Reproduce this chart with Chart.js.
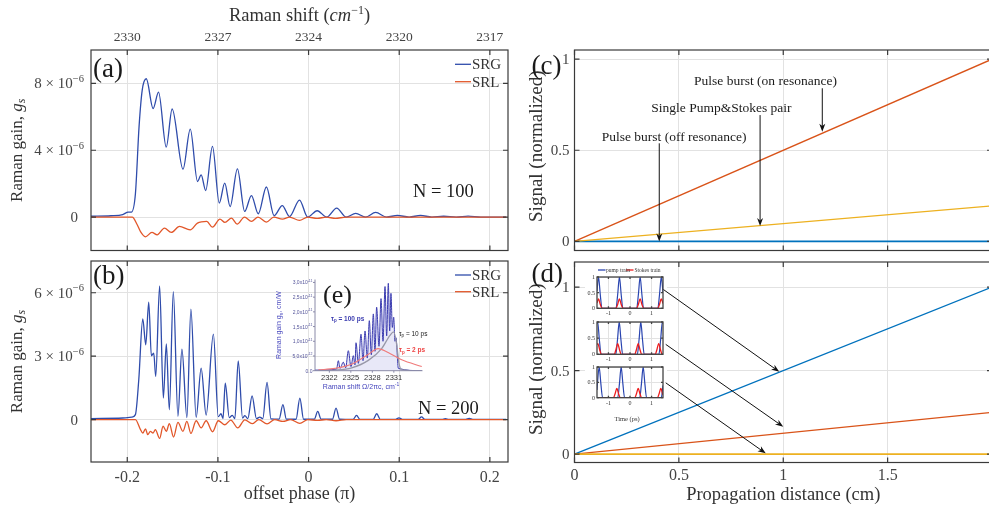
<!DOCTYPE html>
<html>
<head>
<meta charset="utf-8">
<script src="https://cdn.jsdelivr.net/npm/chart.js@4.4.1/dist/chart.umd.min.js"></script>
<style>
html, body { margin: 0; padding: 0; background: #fff; overflow: hidden; }
#wrap { position: relative; width: 989px; height: 506px; overflow: hidden; }
#wrap canvas { position: absolute; left: 0; top: 0; }
</style>
</head>
<body>
<div id="wrap">
  <canvas id="pa" width="994" height="506"></canvas>
  <canvas id="pb" width="994" height="506"></canvas>
  <canvas id="pe" width="994" height="506"></canvas>
  <canvas id="pc" width="994" height="506"></canvas>
  <canvas id="pd" width="994" height="506"></canvas>
  <canvas id="pd1" width="994" height="506"></canvas>
  <canvas id="pd2" width="994" height="506"></canvas>
  <canvas id="pd3" width="994" height="506"></canvas>
</div>
<script>
// ---- (a), (b): gain vs offset phase; top axis shows Raman shift at the same ticks
const phaseTicks = [-0.2, -0.1, 0, 0.1, 0.2];
const phaseLabels = ['-0.2', '-0.1', '0', '0.1', '0.2'];
const shiftLabels = ['2330', '2327', '2324', '2320', '2317'];
// gains in units of 1e-6
const aGainTicks = [0, 4, 8];
const bGainTicks = [0, 3, 6];

const aSrgX = [-0.24, -0.218, -0.205, -0.199, -0.1955, -0.191, -0.187, -0.1835, -0.179, -0.1715,
  -0.1655, -0.157, -0.1505, -0.1385, -0.1305, -0.1225, -0.1185, -0.1135, -0.106, -0.0985,
  -0.0925, -0.0865, -0.0785, -0.0705, -0.063, -0.0555, -0.0465, -0.038, -0.029, -0.021,
  -0.010, -0.001, 0.0095, 0.020, 0.031, 0.0415, 0.052, 0.063, 0.074, 0.086,
  0.098, 0.111, 0.1235, 0.136, 0.149, 0.163, 0.176, 0.19, 0.218];
const aSrgY = [0.05, 0.08, 0.15, 0.3, 0.3, 1.4, 5.4, 7.6, 8.28, 6.5,
  7.48, 4.19, 6.47, 2.87, 5.27, 2.13, 2.53, 1.59, 4.23, 0.84,
  2.03, 0.63, 2.89, 0.34, 1.29, 0.2, 1.8, 0.08, 0.69, 0.03,
  1.02, 0.0, 0.38, 0.0, 0.54, 0.0, 0.22, 0.0, 0.28, 0.0,
  0.1, 0.0, 0.1, 0.0, 0.05, 0.0, 0.06, 0.0, 0.0];
const aSrlX = [-0.24, -0.1945, -0.189, -0.1855, -0.180, -0.1728, -0.167, -0.159, -0.1515, -0.1424,
  -0.1306, -0.1226, -0.1123, -0.106, -0.0978, -0.0923, -0.085, -0.0788, -0.0707, -0.063,
  -0.0558, -0.0466, -0.0383, -0.0288, -0.021, -0.010, -0.001, 0.0094, 0.0196, 0.0295,
  0.0415, 0.218];
const aSrlY = [0, 0, -0.46, -0.86, -1.18, -0.92, -1.06, -0.66, -0.92, -0.56,
  -0.76, -0.36, -0.26, -0.6, -0.12, -0.32, -0.06, -0.42, 0, -0.26,
  0, -0.3, 0, -0.12, 0, -0.2, 0, -0.08, 0, -0.08,
  0, 0];

const bSrgX = [-0.24, -0.205, -0.195, -0.191, -0.1873, -0.1829, -0.1796, -0.1763, -0.1734, -0.1708,
  -0.1686, -0.1643, -0.1602, -0.1569, -0.1536, -0.1492, -0.1441, -0.1397, -0.1342, -0.1298,
  -0.1240, -0.1185, -0.1130, -0.1050, -0.0996, -0.0966, -0.0944, -0.0919, -0.0875, -0.0842,
  -0.0813, -0.0776, -0.0728, -0.0703, -0.0670, -0.0623, -0.0575, -0.0538, -0.0505, -0.0458,
  -0.0415, -0.0325, -0.0283, -0.0245, -0.0138, -0.0096, -0.0055, 0.0063, 0.0101, 0.0139,
  0.0264, 0.0303, 0.0342, 0.0490, 0.0529, 0.0568, 0.0713, 0.0752, 0.0791, 0.0960,
  0.0997, 0.1034, 0.1208, 0.1246, 0.1284, 0.1471, 0.1509, 0.1547, 0.1734, 0.1772,
  0.1810, 0.218];
const bSrgY = [0.05, 0.08, 0.12, 0.24, 1.89, 4.76, 3.54, 5.55, 3.02, 3.15,
  2.04, 6.32, 1.02, 3.58, 0.47, 6.05, 0.16, 3.33, 0.1, 5.22,
  0.11, 2.44, 0.22, 4.04, 0.14, 0.28, 0.05, 1.73, 0.1, 0.2,
  0.05, 2.78, 0.08, 0.19, 0.05, 1.13, 0.05, 0.12, 0.05, 1.76,
  0.04, 0.03, 0.71, 0.03, 0.02, 1.02, 0.02, 0.02, 0.39, 0.02,
  0.02, 0.55, 0.02, 0.01, 0.2, 0.01, 0.01, 0.28, 0.01, 0.01,
  0.09, 0.01, 0.01, 0.13, 0.01, 0.01, 0.05, 0.01, 0.01, 0.06,
  0.01, 0.01];
const bSrlX = [-0.24, -0.191, -0.1854, -0.1829, -0.1799, -0.1774, -0.1745, -0.1715, -0.1690, -0.1643,
  -0.1605, -0.1569, -0.1536, -0.1489, -0.1441, -0.1386, -0.1342, -0.1298, -0.1240, -0.1185,
  -0.1130, -0.1059, -0.0996, -0.0923, -0.0858, -0.0781, -0.0703, -0.0623, -0.0549, -0.0458,
  -0.0374, -0.0283, -0.0198, -0.0096, -0.0009, 0.0097, 0.0196, 0.0303, 0.0416, 0.218];
const bSrlY = [0, 0, -0.47, -0.63, -0.43, -0.71, -0.55, -0.63, -0.47, -0.88,
  -0.31, -0.55, -0.19, -0.82, -0.13, -0.55, -0.08, -0.65, -0.05, -0.39,
  -0.05, -0.57, -0.05, -0.24, -0.02, -0.39, -0.01, -0.19, 0, -0.2,
  0, -0.08, 0, -0.17, 0, -0.03, 0, -0.05, 0, 0];

// ---- (e) inset: gain (units of 1e-11) vs Raman shift
const eShiftTicks = [2322, 2325, 2328, 2331];
const eGainTicks = [0, 0.5, 1, 1.5, 2, 2.5, 3];
const eGainMant = ['0.0', '5,0x10', '1,0x10', '1,5x10', '2,0x10', '2,5x10', '3,0x10'];
const eGainExp = ['', '-12', '-11', '-11', '-11', '-11', '-11'];
const e100X = [2320.0, 2323.0, 2323.26, 2323.49, 2323.95, 2324.28, 2324.65, 2325.02, 2325.35, 2325.58,
  2325.72, 2326.05, 2326.42, 2326.70, 2326.98, 2327.30, 2327.58, 2327.86, 2328.14, 2328.37,
  2328.60, 2328.93, 2329.21, 2329.49, 2329.77, 2330.0, 2330.23, 2330.42, 2330.60, 2330.79,
  2330.98, 2331.16, 2331.30, 2331.63, 2334.9];
const e100Y = [0.02, 0.05, 0.34, 0.08, 0.29, 0.1, 0.68, 0.14, 0.51, 0.2,
  0.95, 0.25, 1.24, 0.34, 1.35, 0.43, 1.70, 0.54, 1.93, 0.66,
  2.16, 0.83, 2.45, 1.0, 2.86, 1.18, 2.97, 1.35, 2.63, 1.47,
  1.82, 1.0, 1.12, 0.08, 0.0];
const e10X = [2320.47, 2322.79, 2325.12, 2327.44, 2329.30, 2330.46, 2330.98, 2331.39, 2331.72, 2332.12, 2334.9];
const e10Y = [0.0, 0.02, 0.1, 0.35, 0.75, 1.2, 1.32, 0.9, 0.25, 0.03, 0.0];
const e2X = [2320.47, 2322.8, 2325.1, 2327.4, 2328.8, 2330.2, 2332.1, 2334.9];
const e2Y = [0.03, 0.08, 0.22, 0.55, 0.75, 0.62, 0.37, 0.14];

// ---- (c), (d): normalized signal vs propagation distance
const distTicks = [0, 0.5, 1, 1.5];
const distLabels = ['0', '0.5', '1', '1.5'];
const signalTicks = [0, 0.5, 1];
const signalLabels = ['0', '0.5', '1'];
const distX = [0, 2];
const cOnRes = [0, 1];
const cSinglePair = [0, 0.195];
const cOffRes = [0, 0];
const dBlue = [0, 1];
const dRed = [0, 0.25];
const dYellow = [0, 0];

// ---- (d) insets: pump / Stokes trains vs time (ps)
const timeTicks = [-1, 0, 1];
const timeLabels = ['-1', '0', '1'];
const trainTicks = [0, 0.5, 1];
const trainLabels = ['0', '0.5', '1'];
const t1PumpX = [-1.53, -1.46, -1.38, -1.30, -0.65, -0.57, -0.49, -0.41, -0.33, 0.31, 0.39, 0.47, 0.55, 0.63, 1.29, 1.37, 1.45, 1.53];
const t1PumpY = [0.55, 1, 0.45, 0, 0, 0.45, 1, 0.45, 0, 0, 0.45, 1, 0.45, 0, 0, 0.45, 1, 0.5];
const t1StokesX = [-1.53, -1.46, -1.38, -1.30, -0.65, -0.57, -0.49, -0.41, -0.33, 0.31, 0.39, 0.47, 0.55, 0.63, 1.29, 1.37, 1.45, 1.53];
const t1StokesY = [0.17, 0.3, 0.13, 0, 0, 0.13, 0.3, 0.13, 0, 0, 0.13, 0.3, 0.13, 0, 0, 0.13, 0.3, 0.15];
const t2PumpX = [-1.53, -1.50, -1.42, -1.34, -0.66, -0.58, -0.50, -0.42, -0.34, 0.34, 0.42, 0.50, 0.58, 0.66, 1.34, 1.42, 1.50, 1.53];
const t2PumpY = [0.95, 1, 0.45, 0, 0, 0.45, 1, 0.45, 0, 0, 0.45, 1, 0.45, 0, 0, 0.45, 1, 0.95];
const t2StokesX = [-1.53, -1.49, -1.41, -1.33, -0.73, -0.65, -0.57, -0.49, -0.41, 0.22, 0.30, 0.38, 0.46, 0.54, 1.17, 1.25, 1.33, 1.41, 1.49, 1.53];
const t2StokesY = [0.3, 0.33, 0.15, 0, 0, 0.15, 0.33, 0.15, 0, 0, 0.15, 0.33, 0.15, 0, 0, 0.15, 0.33, 0.15, 0, 0];
const t3PumpX = [-1.53, -1.51, -1.43, -1.35, -1.27, -0.57, -0.49, -0.41, -0.33, -0.25, 0.45, 0.53, 0.61, 0.69, 0.77, 1.45, 1.53];
const t3PumpY = [0.25, 0.45, 1, 0.45, 0, 0, 0.45, 1, 0.45, 0, 0, 0.45, 1, 0.45, 0, 0, 0.4];
const t3StokesX = [-1.53, -0.77, -0.69, -0.61, -0.53, -0.45, 0.22, 0.30, 0.38, 0.46, 0.54, 1.27, 1.35, 1.43, 1.51, 1.53];
const t3StokesY = [0, 0, 0.13, 0.3, 0.13, 0, 0, 0.13, 0.3, 0.13, 0, 0, 0.13, 0.3, 0.13, 0.1];

// ---------------------------------------------------------------------------
const W = 994, H = 506;
const SERIF = '"Liberation Serif", "Times New Roman", serif';
const SANS = '"Liberation Sans", Arial, sans-serif';
const GRID = '#e2e2e2';
const INK = '#333333';
const SRG = '#2f4cab', SRL = '#e2572a';
const MBLUE = '#0072BD', MRED = '#D95319', MYEL = '#EDB120';

function pts(xs, ys) { return xs.map((x, i) => ({ x: x, y: ys[i] })); }

function series(xs, ys, color, width, smooth, extra) {
  return Object.assign({
    data: pts(xs, ys), borderColor: color, borderWidth: width, pointRadius: 0,
    fill: false, tension: 0, cubicInterpolationMode: smooth ? 'monotone' : 'default'
  }, extra || {});
}

function axis(min, max, ticks, grid) {
  return {
    type: 'linear', min: min, max: max,
    afterBuildTicks: s => { s.ticks = ticks.map(v => ({ value: v })); },
    ticks: { display: false },
    grid: { display: grid, color: GRID, lineWidth: 1, drawTicks: false },
    border: { display: false }
  };
}

function panel(id, box, xAxis, yAxis, datasets, hooks) {
  return new Chart(document.getElementById(id), {
    type: 'line',
    data: { datasets: datasets },
    options: {
      responsive: false, animation: false, events: [],
      layout: { padding: { left: box[0], top: box[1], right: W - box[2], bottom: H - box[3] } },
      plugins: { legend: { display: false }, tooltip: { enabled: false } },
      scales: { x: xAxis, y: yAxis }
    },
    plugins: [{ id: 'deco_' + id, beforeDatasetsDraw: hooks.under, afterDraw: hooks.over }]
  });
}

// text helpers --------------------------------------------------------------
function font(size, italic, fam, bold) {
  return (italic ? 'italic ' : '') + (bold ? 'bold ' : '') + size + 'px ' + (fam || SERIF);
}
// pieces: [text, size, italic, dy]
function runs(ctx, pieces, x, y, align, color, fam, bold) {
  ctx.save();
  ctx.fillStyle = color || INK;
  ctx.textBaseline = 'alphabetic';
  ctx.textAlign = 'left';
  let w = 0;
  const ws = pieces.map(p => { ctx.font = font(p[1], p[2], fam, bold); const m = ctx.measureText(p[0]).width; w += m; return m; });
  let cx = align === 'center' ? x - w / 2 : align === 'right' ? x - w : x;
  pieces.forEach((p, i) => {
    ctx.font = font(p[1], p[2], fam, bold);
    ctx.fillText(p[0], cx, y + (p[3] || 0));
    cx += ws[i];
  });
  ctx.restore();
}
function label(ctx, s, x, y, size, align, color, fam, bold) { runs(ctx, [[s, size]], x, y, align, color, fam, bold); }
function vrun(ctx, pieces, x, y, color, fam) {
  ctx.save(); ctx.translate(x, y); ctx.rotate(-Math.PI / 2);
  runs(ctx, pieces, 0, 0, 'center', color, fam);
  ctx.restore();
}

function frame(ctx, a, xp, yp, len, lw, color) {
  ctx.save();
  ctx.strokeStyle = color || '#3a3a3a';
  ctx.lineWidth = lw || 1.2;
  ctx.strokeRect(a.left, a.top, a.right - a.left, a.bottom - a.top);
  ctx.beginPath();
  xp.forEach(x => { ctx.moveTo(x, a.bottom); ctx.lineTo(x, a.bottom - len); ctx.moveTo(x, a.top); ctx.lineTo(x, a.top + len); });
  yp.forEach(y => { ctx.moveTo(a.left, y); ctx.lineTo(a.left + len, y); ctx.moveTo(a.right, y); ctx.lineTo(a.right - len, y); });
  ctx.stroke();
  ctx.restore();
}

function arrow(ctx, x0, y0, x1, y1) {
  const ang = Math.atan2(y1 - y0, x1 - x0), L = 8, Wd = 3;
  const c = Math.cos(ang), s = Math.sin(ang);
  ctx.save();
  ctx.strokeStyle = '#111'; ctx.fillStyle = '#111'; ctx.lineWidth = 1;
  ctx.beginPath(); ctx.moveTo(x0, y0); ctx.lineTo(x1 - L * 0.7 * c, y1 - L * 0.7 * s); ctx.stroke();
  ctx.beginPath();
  ctx.moveTo(x1, y1);
  ctx.lineTo(x1 - L * c + Wd * s, y1 - L * s - Wd * c);
  ctx.lineTo(x1 - L * 0.7 * c, y1 - L * 0.7 * s);
  ctx.lineTo(x1 - L * c - Wd * s, y1 - L * s + Wd * c);
  ctx.closePath(); ctx.fill();
  ctx.restore();
}

function sciTick(ctx, v, py) {
  if (v === 0) label(ctx, '0', 78, py + 5, 15, 'right', '#444');
  else runs(ctx, [[v + ' \u00d7 10', 15], ['\u22126', 10.5, false, -6.5]], 84, py + 5, 'right', '#444');
}

function legendPair(ctx, y1, y2) {
  ctx.save();
  ctx.lineWidth = 1.3;
  ctx.strokeStyle = SRG; ctx.beginPath(); ctx.moveTo(455, y1); ctx.lineTo(471, y1); ctx.stroke();
  ctx.strokeStyle = SRL; ctx.beginPath(); ctx.moveTo(455, y2); ctx.lineTo(471, y2); ctx.stroke();
  ctx.restore();
  label(ctx, 'SRG', 472, y1 + 5, 15, 'left', '#333');
  label(ctx, 'SRL', 472, y2 + 5, 15, 'left', '#333');
}

const gainTitle = [['Raman gain, ', 17], ['g', 17, true], ['s', 12, true, 3.5]];

// (a) -----------------------------------------------------------------------
panel('pa', [91, 50, 508, 250.5],
  axis(-0.24, 0.22, phaseTicks, true), axis(-2, 10, aGainTicks, true),
  [series(aSrlX, aSrlY, SRL, 1.3, true), series(aSrgX, aSrgY, SRG, 1.3, true)],
  {
    over(chart) {
      const { ctx, chartArea: a, scales: { x, y } } = chart;
      frame(ctx, a, phaseTicks.map(v => x.getPixelForValue(v)), aGainTicks.map(v => y.getPixelForValue(v)), 5);
      phaseTicks.forEach((v, i) => label(ctx, shiftLabels[i], x.getPixelForValue(v), 40.7, 13.5, 'center', '#444'));
      runs(ctx, [['Raman shift (', 18.5], ['cm', 18.5, true], ['\u22121', 12, false, -7.5], [')', 18.5]],
        (a.left + a.right) / 2, 21, 'center', '#333');
      aGainTicks.forEach(v => sciTick(ctx, v, y.getPixelForValue(v)));
      vrun(ctx, gainTitle, 21.5, (a.top + a.bottom) / 2, '#333');
      label(ctx, '(a)', 93, 77, 27, 'left', '#1a1a1a');
      legendPair(ctx, 64.3, 81.7);
      label(ctx, 'N = 100', 413, 196.7, 18.5, 'left', '#1a1a1a');
    }
  });

// (b) -----------------------------------------------------------------------
panel('pb', [91, 261, 508, 462],
  axis(-0.24, 0.22, phaseTicks, true), axis(-2, 7.5, bGainTicks, true),
  [series(bSrlX, bSrlY, SRL, 1.3, true), series(bSrgX, bSrgY, SRG, 1.3, true)],
  {
    over(chart) {
      const { ctx, chartArea: a, scales: { x, y } } = chart;
      frame(ctx, a, phaseTicks.map(v => x.getPixelForValue(v)), bGainTicks.map(v => y.getPixelForValue(v)), 5);
      phaseTicks.forEach((v, i) => label(ctx, phaseLabels[i], x.getPixelForValue(v), 481.7, 16, 'center', '#444'));
      label(ctx, 'offset phase (\u03c0)', (a.left + a.right) / 2, 499, 18, 'center', '#333');
      bGainTicks.forEach(v => sciTick(ctx, v, y.getPixelForValue(v)));
      vrun(ctx, gainTitle, 21.5, (a.top + a.bottom) / 2, '#333');
      label(ctx, '(b)', 93, 283.5, 27, 'left', '#1a1a1a');
      legendPair(ctx, 275, 291.7);
      label(ctx, 'N = 200', 418, 414, 18.5, 'left', '#1a1a1a');
    }
  });

// (e) inset inside (b) ------------------------------------------------------
const EBLUE = '#3b3cb0';
panel('pe', [315, 279.5, 422.5, 370.7],
  axis(2320, 2335, eShiftTicks, false), axis(0, 3.1, eGainTicks, false),
  [series(e2X, e2Y, '#f07a7a', 1.1, true),
   series(e10X, e10Y, '#9898a8', 1.3, true),
   series(e100X, e100Y, EBLUE, 1, true, { fill: 'origin', backgroundColor: 'rgba(110,110,210,0.16)' })],
  {
    over(chart) {
      const { ctx, chartArea: a, scales: { x, y } } = chart;
      ctx.save();
      ctx.strokeStyle = '#8a8aa8'; ctx.lineWidth = 1;
      ctx.beginPath();
      ctx.moveTo(a.left, a.top); ctx.lineTo(a.left, a.bottom); ctx.lineTo(a.right, a.bottom);
      eGainTicks.forEach(v => { const py = y.getPixelForValue(v); ctx.moveTo(a.left - 2, py); ctx.lineTo(a.left, py); });
      eShiftTicks.forEach(v => { const px = x.getPixelForValue(v); ctx.moveTo(px, a.bottom); ctx.lineTo(px, a.bottom + 2); });
      ctx.stroke();
      ctx.restore();
      eGainTicks.forEach((v, i) => {
        const py = y.getPixelForValue(v) + 2;
        if (eGainExp[i]) runs(ctx, [[eGainMant[i], 5], [eGainExp[i], 3.5, false, -2.5]], 312.5, py, 'right', '#55559a', SANS);
        else label(ctx, eGainMant[i], 312.5, py, 5, 'right', '#55559a', SANS);
      });
      eShiftTicks.forEach(v => label(ctx, String(v), x.getPixelForValue(v), 380, 7.5, 'center', '#333', SANS));
      runs(ctx, [['Raman shift \u03a9/2\u03c0c, cm', 7], ['-1', 5, false, -3]], 361, 388.5, 'center', '#4646bd', SANS);
      vrun(ctx, [['Raman gain g', 7], ['s', 5, false, 2], [', cm/W', 7]], 281, 325, '#4646bd', SANS);
      label(ctx, '(e)', 323, 302.5, 26, 'left', '#1a1a1a');
      runs(ctx, [['\u03c4', 6.5], ['p', 4.5, false, 1.5], [' = 100 ps', 6.5]], 331, 320.5, 'left', EBLUE, SANS, true);
      runs(ctx, [['\u03c4', 6.5], ['p', 4.5, false, 1.5], [' = 10 ps', 6.5]], 399, 335.5, 'left', '#222', SANS);
      runs(ctx, [['\u03c4', 6.5], ['p', 4.5, false, 1.5], [' = 2 ps', 6.5]], 399, 352, 'left', '#ee4444', SANS, true);
    }
  });

// (c) -----------------------------------------------------------------------
panel('pc', [574.5, 50, 992, 250.5],
  axis(0, 2, distTicks, true), axis(-0.05, 1.05, signalTicks, true),
  [series(distX, cSinglePair, MYEL, 1.4, false),
   series(distX, cOnRes, MRED, 1.4, false),
   series(distX, cOffRes, MBLUE, 1.8, false)],
  {
    over(chart) {
      const { ctx, chartArea: a, scales: { x, y } } = chart;
      frame(ctx, a, distTicks.map(v => x.getPixelForValue(v)), signalTicks.map(v => y.getPixelForValue(v)), 5);
      signalTicks.forEach((v, i) => label(ctx, signalLabels[i], 569.5, y.getPixelForValue(v) + 5, 15, 'right', '#444'));
      vrun(ctx, [['Signal (normalized)', 19]], 542, (a.top + a.bottom) / 2 - 4, '#333');
      label(ctx, '(c)', 531.5, 73.5, 27, 'left', '#1a1a1a');
      const notes = [['Pulse burst (on resonance)', 0.915, 0.885],
                     ['Single Pump&Stokes pair', 0.704, 0.736],
                     ['Pulse burst (off resonance)', 0.477, 0.578]];
      notes.forEach(n => label(ctx, n[0], x.getPixelForValue(n[1]), y.getPixelForValue(n[2]) + 4.5, 13.5, 'center', '#1a1a1a'));
      const arrows = [[1.187, 0.84, 0.602], [0.889, 0.693, 0.084], [0.406, 0.538, 0.0]];
      arrows.forEach(r => arrow(ctx, x.getPixelForValue(r[0]), y.getPixelForValue(r[1]),
        x.getPixelForValue(r[0]), y.getPixelForValue(r[2])));
    }
  });

// (d) -----------------------------------------------------------------------
panel('pd', [574.5, 262, 992, 462.5],
  axis(0, 2, distTicks, true), axis(-0.05, 1.15, signalTicks, true),
  [series(distX, dYellow, MYEL, 1.8, false),
   series(distX, dRed, MRED, 1.4, false),
   series(distX, dBlue, MBLUE, 1.4, false)],
  {
    under(chart) {
      const ctx = chart.ctx;
      ctx.save(); ctx.fillStyle = '#fff'; ctx.fillRect(585, 264, 82, 151); ctx.restore();
    },
    over(chart) {
      const { ctx, chartArea: a, scales: { x, y } } = chart;
      frame(ctx, a, distTicks.map(v => x.getPixelForValue(v)), signalTicks.map(v => y.getPixelForValue(v)), 5);
      distTicks.forEach((v, i) => label(ctx, distLabels[i], x.getPixelForValue(v), 480, 16, 'center', '#444'));
      label(ctx, 'Propagation distance (cm)', (a.left + a.right) / 2, 499.5, 18.5, 'center', '#333');
      signalTicks.forEach((v, i) => label(ctx, signalLabels[i], 569.5, y.getPixelForValue(v) + 5, 15, 'right', '#444'));
      vrun(ctx, [['Signal (normalized)', 19]], 542, (a.top + a.bottom) / 2 - 3, '#333');
      label(ctx, '(d)', 531.5, 282, 27, 'left', '#1a1a1a');
      const arrows = [[0.425, 0.986, 0.981, 0.493], [0.437, 0.657, 1.0, 0.164], [0.437, 0.427, 0.916, 0.005]];
      arrows.forEach(r => arrow(ctx, x.getPixelForValue(r[0]), y.getPixelForValue(r[1]),
        x.getPixelForValue(r[2]), y.getPixelForValue(r[3])));
    }
  });

// (d) insets ----------------------------------------------------------------
const PUMP = '#2a45b0', STOKES = '#ee1c1c';
function trainPanel(id, box, pumpX, pumpY, stokesX, stokesY, extra) {
  panel(id, box, axis(-1.53, 1.53, timeTicks, true), axis(0, 1, trainTicks, true),
    [series(stokesX, stokesY, STOKES, 1.3, true), series(pumpX, pumpY, PUMP, 1.2, true)],
    {
      over(chart) {
        const { ctx, chartArea: a, scales: { x, y } } = chart;
        frame(ctx, a, timeTicks.map(v => x.getPixelForValue(v)), trainTicks.map(v => y.getPixelForValue(v)), 2, 1.3, '#444');
        trainTicks.forEach((v, i) => label(ctx, trainLabels[i], 595, y.getPixelForValue(v) + 2, 6, 'right', '#333'));
        timeTicks.forEach((v, i) => label(ctx, timeLabels[i], x.getPixelForValue(v), a.bottom + 7, 6, 'center', '#333'));
        if (extra) extra(ctx, a);
      }
    });
}
trainPanel('pd1', [597, 277, 663, 308.3], t1PumpX, t1PumpY, t1StokesX, t1StokesY, (ctx) => {
  ctx.save(); ctx.lineWidth = 1.3;
  ctx.strokeStyle = PUMP; ctx.beginPath(); ctx.moveTo(598, 270); ctx.lineTo(605.5, 270); ctx.stroke();
  ctx.strokeStyle = STOKES; ctx.beginPath(); ctx.moveTo(626, 270); ctx.lineTo(633.5, 270); ctx.stroke();
  ctx.restore();
  label(ctx, 'pump train', 606, 272, 5.5, 'left', '#333');
  label(ctx, 'Stokes train', 634.5, 272, 5.5, 'left', '#333');
});
trainPanel('pd2', [597, 322, 663, 354.3], t2PumpX, t2PumpY, t2StokesX, t2StokesY);
trainPanel('pd3', [597, 367, 663, 397.7], t3PumpX, t3PumpY, t3StokesX, t3StokesY, (ctx) => {
  label(ctx, 'Time (ps)', 627, 420.5, 6.5, 'center', '#333');
});
</script>
</body>
</html>
